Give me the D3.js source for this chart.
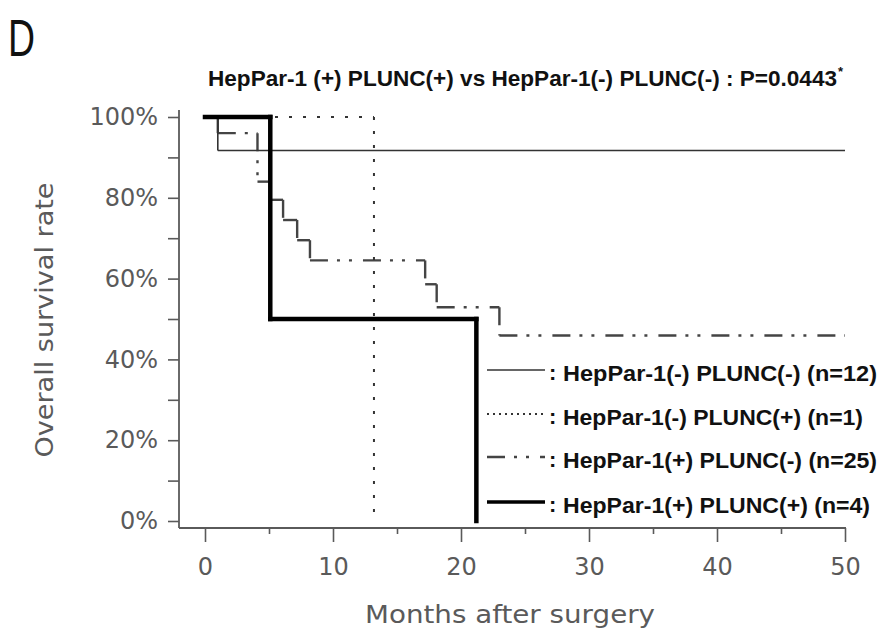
<!DOCTYPE html>
<html>
<head>
<meta charset="utf-8">
<script src="https://cdn.jsdelivr.net/npm/d3@7"></script>
<style>
  html, body { margin: 0; padding: 0; background: #fff; }
  svg { display: block; }
</style>
</head>
<body>
<svg id="chart" width="884" height="632"></svg>
<script>
// ---------- data ----------
const seriesNames = [
  "HepPar-1(-) PLUNC(-) (n=12)",
  "HepPar-1(-) PLUNC(+) (n=1)",
  "HepPar-1(+) PLUNC(-) (n=25)",
  "HepPar-1(+) PLUNC(+) (n=4)"
];
// Kaplan-Meier step points (months, survival fraction)
const timesA = [0, 1.0, 50];
const survA  = [1, 0.917, 0.917];
const timesB = [0, 13.2];
const survB  = [1, 0];
const timesC = [0, 1.0, 4.1, 5.1, 6.1, 7.2, 8.2, 17.2, 18.1, 23.0, 50];
const survC  = [1, 0.96, 0.84, 0.795, 0.745, 0.695, 0.645, 0.586, 0.529, 0.459, 0.459];
const timesD = [0, 5.1, 21.2];
const survD  = [1, 0.5, 0];

const xTicks = [0, 5, 10, 15, 20, 25, 30, 35, 40, 45, 50];
const yTicks = [0, 0.1, 0.2, 0.3, 0.4, 0.5, 0.6, 0.7, 0.8, 0.9, 1.0];

const titleText = "HepPar-1 (+) PLUNC(+) vs HepPar-1(-) PLUNC(-) : P=0.0443";
const panelLabel = "D";
const xLabel = "Months after surgery";
const yLabel = "Overall survival rate";

// ---------- layout ----------
const svg = d3.select("#chart");
const x = d3.scaleLinear().domain([0, 50]).range([205, 845]);
const y = d3.scaleLinear().domain([0, 1]).range([521, 117]);
const yAxisX = 179;
const xAxisY = 528;
const axisColor = "#5a5a5a";
const tickFont = "'DejaVu Sans', Verdana, sans-serif";
const boldFont = "'Liberation Sans Narrow', 'Liberation Sans', Arial, sans-serif";

// panel letter
svg.append("text")
  .attr("x", 8).attr("y", 56)
  .attr("font-family", "'Liberation Sans', Arial, sans-serif")
  .attr("font-size", 51)
  .attr("textLength", 27).attr("lengthAdjust", "spacingAndGlyphs")
  .attr("fill", "#111")
  .text(panelLabel);

// title
svg.append("text")
  .attr("x", 208).attr("y", 86)
  .attr("font-family", boldFont)
  .attr("font-weight", "bold")
  .attr("font-size", 22)
  .attr("textLength", 629).attr("lengthAdjust", "spacingAndGlyphs")
  .attr("fill", "#111")
  .text(titleText);
svg.append("text")
  .attr("x", 838).attr("y", 76)
  .attr("font-family", boldFont)
  .attr("font-weight", "bold")
  .attr("font-size", 13)
  .attr("fill", "#111")
  .text("*");

// ---------- axes ----------
const isMajorY = d => Math.round(d * 100) % 20 === 0;
const yAxis = d3.axisLeft(y)
  .tickValues(yTicks)
  .tickSize(11)
  .tickPadding(10)
  .tickFormat(d => isMajorY(d) ? Math.round(d * 100) + "%" : "");
const gy = svg.append("g").attr("transform", `translate(${yAxisX},0)`).call(yAxis);
gy.select(".domain").remove();
gy.selectAll(".tick line").attr("stroke", axisColor).attr("stroke-width", 1.6);
gy.selectAll(".tick text")
  .attr("font-family", tickFont).attr("font-size", 24).attr("fill", axisColor);
svg.append("line")
  .attr("x1", yAxisX).attr("x2", yAxisX)
  .attr("y1", y(1) - 7).attr("y2", xAxisY)
  .attr("stroke", axisColor).attr("stroke-width", 1.8);

const isMajorX = d => d % 10 === 0;
const xAxis = d3.axisBottom(x)
  .tickValues(xTicks)
  .tickSize(14)
  .tickPadding(16)
  .tickFormat(d => isMajorX(d) ? d : "");
const gx = svg.append("g").attr("transform", `translate(0,${xAxisY})`).call(xAxis);
gx.select(".domain").remove();
gx.selectAll(".tick line").attr("stroke", axisColor).attr("stroke-width", 1.6)
  .attr("y2", d => isMajorX(d) ? 14 : 6);
gx.selectAll(".tick text")
  .attr("font-family", tickFont).attr("font-size", 24).attr("fill", axisColor);
svg.append("line")
  .attr("x1", yAxisX).attr("x2", x(50) + 1)
  .attr("y1", xAxisY).attr("y2", xAxisY)
  .attr("stroke", axisColor).attr("stroke-width", 1.8);

// axis titles
svg.append("text")
  .attr("x", 510).attr("y", 623)
  .attr("text-anchor", "middle")
  .attr("font-family", tickFont).attr("font-size", 25)
  .attr("textLength", 290).attr("lengthAdjust", "spacingAndGlyphs")
  .attr("fill", axisColor)
  .text(xLabel);
svg.append("text")
  .attr("transform", "translate(53,320) rotate(-90)")
  .attr("text-anchor", "middle")
  .attr("font-family", tickFont).attr("font-size", 25)
  .attr("textLength", 275).attr("lengthAdjust", "spacingAndGlyphs")
  .attr("fill", axisColor)
  .text(yLabel);

// ---------- curves ----------
const styles = [
  { stroke: "#333", width: 1.6, dash: null, legendDash: null },
  { stroke: "#333", width: 2.0, dash: "3,11", legendDash: "2,4" },
  { stroke: "#444", width: 2.4, dash: "18,9,3,9,3,11", legendDash: "18,9,3,9,3,11" },
  { stroke: "#000", width: 4.5, dash: null, legendDash: null }
];
const seriesData = [
  { t: timesA, s: survA },
  { t: timesB, s: survB },
  { t: timesC, s: survC },
  { t: timesD, s: survD }
];

// each step segment drawn separately (dash pattern restarts per segment)
function segments(t, s) {
  const segs = [];
  for (let i = 0; i < t.length - 1; i++) {
    segs.push([[t[i], s[i]], [t[i + 1], s[i]]]);
    if (s[i + 1] !== s[i]) segs.push([[t[i + 1], s[i]], [t[i + 1], s[i + 1]]]);
  }
  return segs;
}
const line = d3.line().x(d => x(d[0])).y(d => y(d[1]));

const drawOrder = [2, 0, 1, 3];
drawOrder.forEach(k => {
  const st = styles[k];
  svg.append("g")
    .selectAll("path")
    .data(segments(seriesData[k].t, seriesData[k].s))
    .join("path")
    .attr("d", line)
    .attr("fill", "none")
    .attr("stroke", st.stroke)
    .attr("stroke-width", st.width)
    .attr("stroke-linecap", k === 3 ? "square" : "butt")
    .attr("stroke-dasharray", st.dash);
});

// ---------- legend ----------
const legendRows = [370, 414, 457, 502];
const legendTextLen = [314, 300, 314, 307];
const lg = svg.append("g");
seriesNames.forEach((name, i) => {
  const st = styles[i];
  const yy = legendRows[i];
  lg.append("line")
    .attr("x1", 487).attr("x2", 545)
    .attr("y1", yy).attr("y2", yy)
    .attr("stroke", st.stroke)
    .attr("stroke-width", i === 3 ? 3.5 : st.width)
    .attr("stroke-dasharray", st.legendDash);
  lg.append("text")
    .attr("x", 549).attr("y", yy + 10)
    .attr("font-family", boldFont).attr("font-weight", "bold")
    .attr("font-size", 22).attr("fill", "#111")
    .text(":");
  lg.append("text")
    .attr("x", 563).attr("y", yy + 11)
    .attr("font-family", boldFont).attr("font-weight", "bold")
    .attr("font-size", 22).attr("fill", "#111")
    .attr("textLength", legendTextLen[i]).attr("lengthAdjust", "spacingAndGlyphs")
    .text(name);
});
</script>
</body>
</html>
